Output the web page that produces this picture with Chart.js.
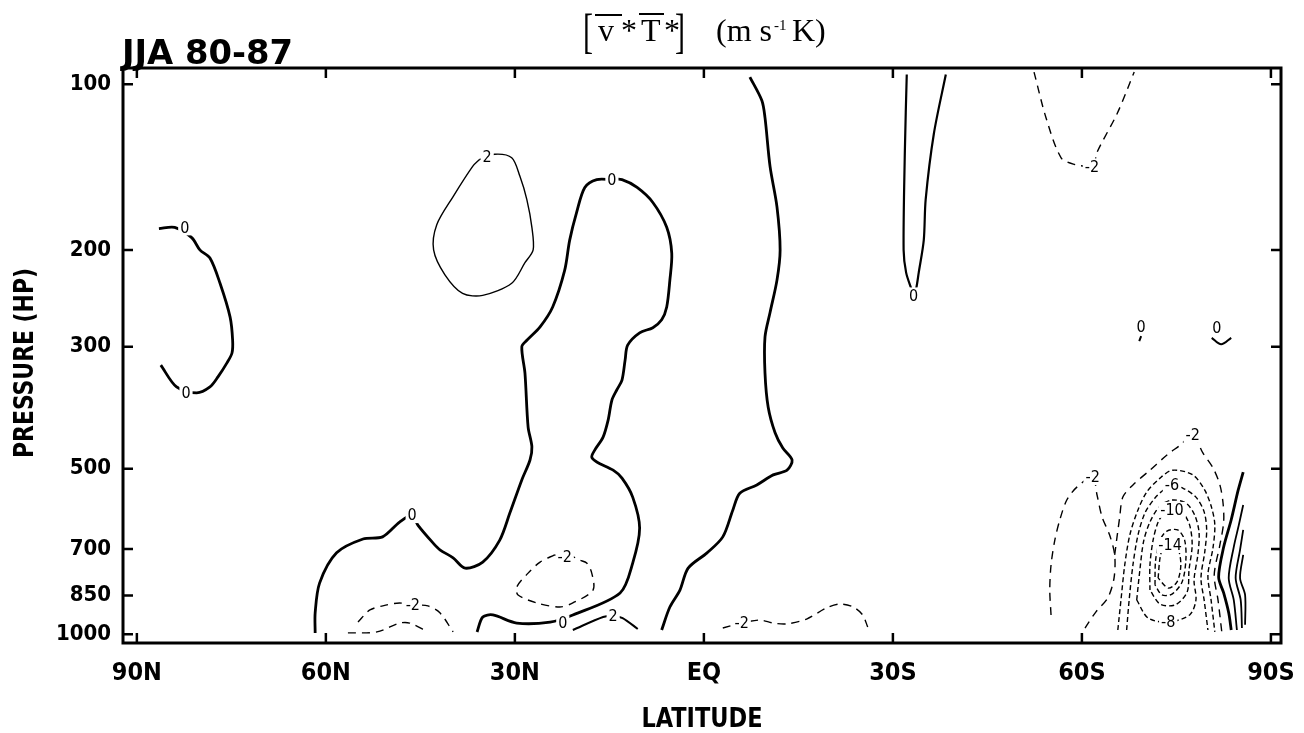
<!DOCTYPE html>
<html>
<head>
<meta charset="utf-8">
<script src="https://cdn.jsdelivr.net/npm/chart.js@4.4.1/dist/chart.umd.min.js"></script>
<style>
  html, body { margin: 0; padding: 0; background: #fff; }
  #wrap { width: 1304px; height: 733px; }
</style>
</head>
<body>
<div id="wrap"><canvas id="fluxChart"></canvas></div>
<script>
// axis ticks
const latTicks = [90, 60, 30, 0, -30, -60, -90];
const pressureTicks = [100, 200, 300, 500, 700, 850, 1000];

// contours: [latitude (north +), pressure hPa]
const zeroArctic = [[86.5,183],[84.0,182],[81.3,190],[80.0,200],[78.4,207],[76.8,230],[75.2,265],[74.8,292],[74.9,308],[75.7,321],[77.1,340],[78.4,355],[80.5,364],[83.7,355],[86.2,324]];
const twoNorthLoop = [[35.6,137],[33.2,134],[30.5,136],[29.2,147],[28.1,162],[27.3,182],[27.1,200],[28.4,211],[30.5,230],[35.1,242],[38.3,240],[41.1,222],[42.9,200],[42.4,180],[39.8,160],[36.7,141],[35.6,137]];
const zeroNorthTongue = [[61.7,994],[61.7,914],[61.0,807],[58.3,711],[54.1,671],[51.0,665],[48.3,625],[46.3,607],[45.4,633],[43.0,682],[41.9,702],[39.8,726],[37.9,758],[35.1,739],[32.4,674],[30.8,602],[28.9,524],[27.6,482],[27.3,456],[27.9,420],[28.4,335],[28.9,300],[28.1,292],[26.0,276],[24.0,254],[22.1,218],[21.3,192],[20.2,171],[18.9,154],[17.0,149],[14.6,149],[13.0,149],[10.6,154],[8.1,164],[5.9,182],[5.1,203],[5.4,227],[5.9,254],[6.7,268],[8.1,277],[10.2,283],[12.1,298],[12.5,317],[13.0,345],[13.8,359],[14.6,375],[15.2,408],[16.0,438],[17.3,462],[17.8,476],[17.0,486],[14.4,503],[13.0,520],[11.3,563],[10.2,641],[11.3,742],[13.3,841],[20.8,922],[24.4,950],[29.7,954],[33.5,922],[35.1,930],[36.0,990]];
const twoSubtropic = [[20.8,982],[16.0,930],[14.4,926],[12.9,934],[10.5,978]];
const minusTwoSubtropic = [[23.7,717],[26.0,739],[27.9,774],[29.7,820],[29.5,848],[26.5,877],[22.9,892],[20.8,877],[17.6,831],[17.8,774],[18.6,742],[19.7,733],[20.8,723],[22.1,723],[23.7,717]];
const minusTwoMidOuter = [[54.9,950],[53.0,903],[50.3,884],[48.3,877],[46.2,884],[43.8,888],[41.9,914],[39.8,990]];
const minusTwoMidInner = [[56.5,994],[51.9,990],[48.3,954],[46.7,954],[43.8,990]];
const zeroTropics = [[-7.3,97],[-9.2,107],[-9.7,115],[-10.5,141],[-11.6,167],[-12.1,200],[-11.6,227],[-10.5,260],[-9.7,288],[-9.7,335],[-10.2,386],[-11.3,430],[-12.5,458],[-14.0,482],[-13.2,503],[-11.0,513],[-8.4,535],[-5.7,554],[-4.6,594],[-3.0,665],[-0.5,711],[2.5,758],[3.8,831],[5.4,892],[6.7,982]];
const minusTwoEquator = [[-3.0,974],[-6.0,954],[-8.9,942],[-11.0,954],[-13.2,957],[-16.3,938],[-19.5,895],[-21.6,881],[-23.7,892],[-25.2,922],[-26.0,970]];
const zeroSouthTongue = [[-32.2,96],[-31.9,132],[-31.7,200],[-32.1,220],[-32.9,235],[-33.3,242],[-33.7,235],[-34.1,220],[-34.9,192],[-35.2,162],[-36.5,123],[-38.4,96]];
const minusTwoUpperSouth = [[-52.4,95],[-54.3,115],[-56.7,136],[-58.9,140],[-61.0,141],[-61.9,141],[-62.4,133],[-65.6,113],[-68.3,95]];
const zeroBlipA = [[-69.4,287],[-69.1,293]];
const zeroBlipB = [[-80.6,289],[-82.1,297],[-83.7,289]];

// antarctic low-level cluster
const minusTwoLobe = [[-55.1,922],[-54.9,831],[-55.1,748],[-55.7,674],[-56.5,619],[-57.6,570],[-59.2,540],[-61.7,518],[-62.4,558],[-63.2,612],[-64.4,660],[-65.2,717],[-65.1,790],[-64.1,859],[-62.2,911],[-60.5,974]];
const minusTwoPolar = [[-65.2,717],[-66.0,612],[-66.5,563],[-68.1,535],[-70.8,503],[-73.5,472],[-75.6,453],[-77.6,434],[-79.2,468],[-80.8,498],[-81.9,535],[-82.4,577],[-82.5,625],[-81.9,688],[-81.0,780],[-81.6,866],[-82.2,990]];
const minusFour = [[-65.7,982],[-66.2,866],[-66.8,748],[-67.6,660],[-68.9,594],[-70.3,551],[-72.4,520],[-74.4,503],[-77.6,513],[-79.5,547],[-80.6,589],[-81.1,633],[-80.8,697],[-80.0,780],[-80.5,866],[-81.1,990]];
const minusSix = [[-67.1,982],[-67.5,866],[-68.1,748],[-68.9,660],[-70.0,602],[-71.6,565],[-72.9,547],[-74.3,535],[-76.0,542],[-78.1,563],[-79.4,599],[-79.8,646],[-79.5,708],[-78.9,790],[-79.4,866],[-80.0,982]];
const minusEight = [[-68.7,866],[-69.2,764],[-69.8,677],[-70.8,625],[-72.4,584],[-74.3,570],[-76.5,577],[-77.9,607],[-78.6,654],[-78.4,717],[-77.8,797],[-78.1,866],[-77.1,922],[-73.7,950],[-70.5,934],[-68.7,866]];
const minusTen = [[-70.8,831],[-70.8,748],[-71.3,674],[-72.1,625],[-73.0,604],[-74.3,594],[-76.0,602],[-77.1,633],[-77.5,688],[-77.0,764],[-76.7,838],[-74.8,884],[-72.4,881],[-70.8,831]];
const minusTwelve = [[-71.6,813],[-71.7,733],[-72.4,674],[-73.5,649],[-75.2,646],[-76.3,674],[-76.5,733],[-75.9,803],[-74.3,845],[-72.7,848],[-71.6,813]];
const minusFourteen = [[-72.1,790],[-72.4,726],[-72.9,697],[-74.0,688],[-75.2,697],[-75.7,748],[-75.1,803],[-73.7,824],[-72.1,790]];
const zeroPolar = [[-85.6,507],[-84.8,547],[-83.7,619],[-82.5,694],[-81.7,787],[-82.5,841],[-83.3,914],[-83.7,982]];
const twoPolar = [[-85.6,582],[-84.9,633],[-84.1,694],[-83.3,790],[-84.1,866],[-84.6,982]];
const fourPolar = [[-85.6,646],[-85.1,702],[-84.4,790],[-85.2,866],[-85.4,974]];
const sixPolar = [[-85.6,717],[-85.1,790],[-85.9,848],[-85.9,961]];

// contour labels: [latitude, pressure, text]
const contourLabels = [
  [82.4,182,'0'],[82.2,364,'0'],[34.4,135.5,'2'],[14.6,149,'0'],[46.3,607,'0'],
  [46.2,884,'-2'],[22.1,723,'-2'],[22.4,954,'0'],[14.4,926,'2'],[-6.0,954,'-2'],
  [-33.3,242,'0'],[-61.6,141,'-2'],[-69.4,276,'0'],[-81.4,277,'0'],
  [-77.6,434,'-2'],[-61.7,518,'-2'],[-74.3,535,'-6'],[-74.3,594,'-10'],[-74.0,688,'-14'],[-73.7,950,'-8']
];

const plotFont = '"DejaVu Sans Condensed", "DejaVu Sans", sans-serif';
const serifFont = '"Liberation Serif", "DejaVu Serif", serif';

function contour(points, width, dash) {
  return {
    data: points.map(([x, y]) => ({ x, y })),
    showLine: true,
    borderColor: '#000',
    borderWidth: width,
    borderDash: dash || [],
    pointRadius: 0,
    tension: 0.3,
    fill: false
  };
}

const thick = 2.8, thin = 1.4;
const dashLong = [8, 6], dashShort = [5, 3];

const datasets = [
  contour(zeroArctic, thick),
  contour(twoNorthLoop, thin),
  contour(zeroNorthTongue, thick),
  contour(twoSubtropic, 2),
  contour(minusTwoSubtropic, thin, dashLong),
  contour(minusTwoMidOuter, thin, dashLong),
  contour(minusTwoMidInner, thin, dashLong),
  contour(zeroTropics, thick),
  contour(minusTwoEquator, thin, dashLong),
  contour(zeroSouthTongue, 2.2),
  contour(minusTwoUpperSouth, thin, dashLong),
  contour(zeroBlipA, 2),
  contour(zeroBlipB, 2),
  contour(minusTwoLobe, thin, dashLong),
  contour(minusTwoPolar, thin, dashLong),
  contour(minusFour, thin, dashShort),
  contour(minusSix, thin, dashShort),
  contour(minusEight, thin, dashShort),
  contour(minusTen, thin, dashShort),
  contour(minusTwelve, thin, dashShort),
  contour(minusFourteen, thin, dashShort),
  contour(zeroPolar, thick),
  contour(twoPolar, 1.8),
  contour(fourPolar, 1.8),
  contour(sixPolar, 1.8)
];

function latLabel(v) {
  if (v === 0) return 'EQ';
  return v > 0 ? v + 'N' : (-v) + 'S';
}

// draw text squeezed/stretched to a given width
function fitText(ctx, text, x, y, width, font, align) {
  ctx.font = font;
  const w = ctx.measureText(text).width;
  ctx.save();
  ctx.translate(x, y);
  ctx.scale(width / w, 1);
  ctx.textAlign = align || 'left';
  ctx.textBaseline = 'alphabetic';
  ctx.fillText(text, 0, 0);
  ctx.restore();
}

const framePlugin = {
  id: 'frame',
  afterDatasetsDraw(chart) {
    const { ctx, chartArea: a, scales } = chart;
    ctx.save();
    // contour labels with gaps
    ctx.font = '16px ' + plotFont;
    ctx.textAlign = 'center';
    ctx.textBaseline = 'middle';
    contourLabels.forEach(([lat, p, t]) => {
      const px = scales.x.getPixelForValue(lat);
      const py = scales.y.getPixelForValue(p);
      const w = ctx.measureText(t).width;
      ctx.fillStyle = '#fff';
      ctx.fillRect(px - w / 2 - 2, py - 8, w + 4, 16);
      ctx.fillStyle = '#000';
      ctx.fillText(t, px, py + 1);
    });
    // frame and inward ticks
    ctx.strokeStyle = '#000';
    ctx.lineWidth = 3;
    ctx.strokeRect(a.left, a.top, a.right - a.left, a.bottom - a.top);
    ctx.lineWidth = 2.5;
    ctx.beginPath();
    latTicks.forEach(v => {
      const px = scales.x.getPixelForValue(v);
      ctx.moveTo(px, a.bottom); ctx.lineTo(px, a.bottom - 10);
      ctx.moveTo(px, a.top); ctx.lineTo(px, a.top + 10);
    });
    pressureTicks.forEach(v => {
      const py = scales.y.getPixelForValue(v);
      ctx.moveTo(a.left, py); ctx.lineTo(a.left + 10, py);
      ctx.moveTo(a.right, py); ctx.lineTo(a.right - 10, py);
    });
    ctx.stroke();
    ctx.restore();
  },
  afterDraw(chart) {
    const ctx = chart.ctx;
    ctx.save();
    ctx.fillStyle = '#000';
    ctx.strokeStyle = '#000';
    // season tag
    fitText(ctx, 'JJA 80-87', 122, 64, 171, 'bold 33px ' + plotFont);
    // axis titles
    fitText(ctx, 'LATITUDE', 702, 727, 121, 'bold 27px ' + plotFont, 'center');
    ctx.save();
    ctx.translate(33, 363);
    ctx.rotate(-Math.PI / 2);
    fitText(ctx, 'PRESSURE (HP)', 0, 0, 190, 'bold 27px ' + plotFont, 'center');
    ctx.restore();
    // main title [v*T*] (m s-1 K)
    fitText(ctx, '[', 583, 47, 10, '48px ' + serifFont);
    fitText(ctx, ']', 675, 47, 10, '48px ' + serifFont);
    ctx.textAlign = 'left';
    ctx.textBaseline = 'alphabetic';
    ctx.font = '32px ' + serifFont;
    ctx.fillText('v', 598, 41);
    ctx.fillText('*', 621, 41);
    ctx.fillText('T', 641, 41);
    ctx.fillText('*', 664, 41);
    ctx.fillText('(m s', 716, 41);
    ctx.fillText('K)', 792, 41);
    ctx.font = '15px ' + serifFont;
    ctx.fillText('-1', 774, 30);
    ctx.lineWidth = 2;
    ctx.beginPath();
    ctx.moveTo(595, 15); ctx.lineTo(622, 15);
    ctx.moveTo(639, 14); ctx.lineTo(664, 14);
    ctx.stroke();
    ctx.restore();
  }
};

const ctx = document.getElementById('fluxChart').getContext('2d');
new Chart(ctx, {
  type: 'scatter',
  data: { datasets },
  options: {
    responsive: true,
    maintainAspectRatio: false,
    animation: false,
    layout: { padding: { left: 0, right: 23, top: 68, bottom: 0 } },
    plugins: { legend: { display: false }, tooltip: { enabled: false } },
    scales: {
      x: {
        type: 'linear',
        min: -91.6,
        max: 92.2,
        reverse: true,
        afterBuildTicks: s => { s.ticks = latTicks.map(v => ({ value: v })); },
        afterFit: s => { s.height = 90; s.paddingLeft = 0; s.paddingRight = 0; },
        grid: { display: false, drawTicks: false },
        border: { display: false },
        ticks: {
          autoSkip: false, maxRotation: 0, padding: 15, color: '#000',
          font: { family: plotFont, size: 25, weight: 'bold' },
          callback: v => latLabel(v)
        }
      },
      y: {
        type: 'logarithmic',
        min: 93.4,
        max: 1037,
        reverse: true,
        afterBuildTicks: s => { s.ticks = pressureTicks.map(v => ({ value: v })); },
        afterFit: s => { s.width = 123; s.paddingTop = 0; s.paddingBottom = 0; },
        grid: { display: false, drawTicks: false },
        border: { display: false },
        ticks: {
          autoSkip: false, padding: 12, color: '#000',
          font: { family: plotFont, size: 22, weight: 'bold' },
          callback: v => String(v)
        }
      }
    }
  },
  plugins: [framePlugin]
});
</script>
</body>
</html>
